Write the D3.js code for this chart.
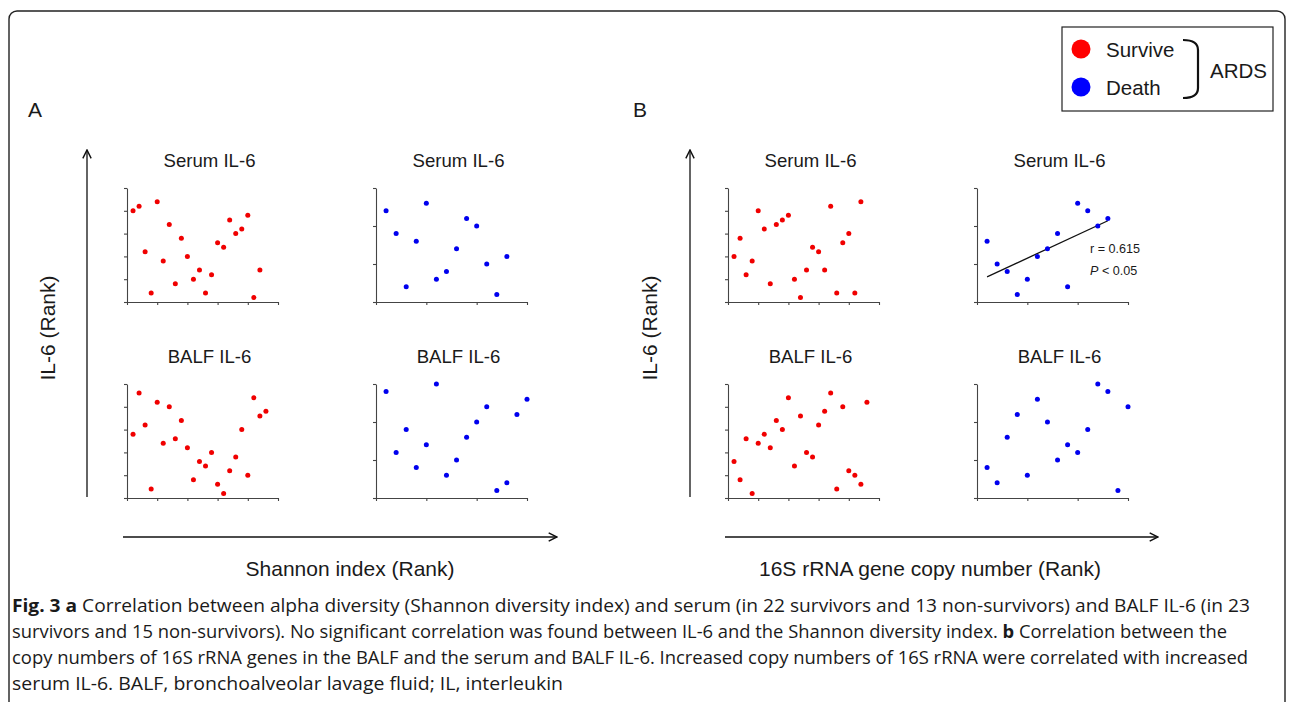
<!DOCTYPE html>
<html><head><meta charset="utf-8">
<script src="https://cdn.jsdelivr.net/npm/d3@7"></script>
<style>
html,body{margin:0;padding:0;background:#fff;}
svg{display:block;}
text{font-family:"Liberation Sans",Arial,sans-serif;fill:#1a1a1a;}
</style></head>
<body>
<svg id="chart" width="1293" height="702"></svg>
<script>
// ---- data (ranks) ----
const rank22 = [1,2,3,4,5,6,7,8,9,10,11,12,13,14,15,16,17,18,19,20,21,22];
const rank23 = [1,2,3,4,5,6,7,8,9,10,11,12,13,14,15,16,17,18,19,20,21,22,23];
const rank13 = [1,2,3,4,5,6,7,8,9,10,11,12,13];
const rank15 = [1,2,3,4,5,6,7,8,9,10,11,12,13,14,15];

// Panel A: Shannon index (rank) vs IL-6 (rank)
const aSerumSurvive = [20,21,11,2,22,9,17,4,14,10,5,7,2,6,13,12,18,15,16,19,1,7];
const aSerumDeath   = [12,9,2,8,13,3,4,7,11,10,5,1,6];
const aBalfSurvive  = [14,23,16,2,21,12,20,13,17,11,4,8,7,10,3,1,6,9,15,5,22,18,19];
const aBalfDeath    = [14,6,9,4,7,15,3,5,8,10,12,1,2,11,13];

// Panel B: 16S rRNA gene copy number (rank) vs IL-6 (rank)
const bSerumSurvive = [10,14,6,9,20,16,4,17,18,19,5,1,7,12,11,7,21,2,13,15,2,22];
const bSerumDeath   = [8,5,4,1,3,6,7,9,2,13,12,10,11];
const bBalfSurvive  = [8,4,13,1,12,14,11,17,15,22,7,18,10,9,16,19,23,2,20,6,5,3,21];
const bBalfDeath    = [4,2,8,11,3,13,10,5,7,6,9,15,14,1,12];

const ticks25 = [0,5,10,15,20,25];
const ticks15 = [0,5,10,15];
const groups = ["Survive","Death"];
const groupColors = ["#f00000","#0000ee"];
const legendColors = ["#ff0000","#0000ff"];
const titles = ["Serum IL-6","BALF IL-6"];
const corrText = ["r = 0.615","< 0.05"];

// ---- layout ----
const svg = d3.select("#chart");
const colX = [127, 376, 728, 977];
const rowY = [188, 384];
const W = 151, H = 114;

// outer frame
svg.append("rect").attr("x",9).attr("y",11).attr("width",1276).attr("height",740)
  .attr("rx",8).attr("fill","none").attr("stroke","#222").attr("stroke-width",1.4);

const panels = [
  {c:0,r:0,x:rank22,y:aSerumSurvive,g:0,t:0},
  {c:1,r:0,x:rank13,y:aSerumDeath,g:1,t:0},
  {c:0,r:1,x:rank23,y:aBalfSurvive,g:0,t:1},
  {c:1,r:1,x:rank15,y:aBalfDeath,g:1,t:1},
  {c:2,r:0,x:rank22,y:bSerumSurvive,g:0,t:0},
  {c:3,r:0,x:rank13,y:bSerumDeath,g:1,t:0,fit:true},
  {c:2,r:1,x:rank23,y:bBalfSurvive,g:0,t:1},
  {c:3,r:1,x:rank15,y:bBalfDeath,g:1,t:1},
];

panels.forEach(p => {
  const tv = p.g === 0 ? ticks25 : ticks15;
  const maxV = tv[tv.length-1];
  const x = d3.scaleLinear().domain([0,maxV]).range([0,W]);
  const y = d3.scaleLinear().domain([0,maxV]).range([H,0]);
  const g = svg.append("g").attr("transform",`translate(${colX[p.c]},${rowY[p.r]})`);
  const xa = g.append("g").attr("transform",`translate(0,${H})`)
    .call(d3.axisBottom(x).tickValues(tv).tickSize(3).tickSizeOuter(0).tickFormat(""));
  const ya = g.append("g")
    .call(d3.axisLeft(y).tickValues(tv).tickSize(3).tickSizeOuter(0).tickFormat(""));
  [xa,ya].forEach(a=>{a.selectAll("path,line").attr("stroke","#444").attr("stroke-width",1.1);});
  g.append("text").attr("x",W/2+7).attr("y",-21).attr("text-anchor","middle")
    .attr("font-size",18.6).text(titles[p.t]);
  if (p.fit) {
    const mx = d3.mean(p.x), my = d3.mean(p.y);
    const sxy = d3.sum(p.x, (v,i)=>(v-mx)*(p.y[i]-my));
    const sxx = d3.sum(p.x, v=>(v-mx)*(v-mx));
    const b = sxy/sxx, a0 = my - b*mx;
    const x0 = d3.min(p.x), x1 = d3.max(p.x);
    g.append("line").attr("x1",x(x0)).attr("y1",y(a0+b*x0)).attr("x2",x(x1)).attr("y2",y(a0+b*x1))
      .attr("stroke","#111").attr("stroke-width",1.3);
    g.append("text").attr("x",113).attr("y",65).attr("font-size",12.6).text(corrText[0]);
    const t2 = g.append("text").attr("x",113).attr("y",87).attr("font-size",12.6);
    t2.append("tspan").attr("font-style","italic").text("P");
    t2.append("tspan").text(" " + corrText[1]);
  }
  g.selectAll("circle").data(p.y).join("circle")
    .attr("cx",(d,i)=>x(p.x[i])).attr("cy",d=>y(d)).attr("r",2.5)
    .attr("fill",groupColors[p.g]);
});

// panel letters
svg.append("text").attr("x",28).attr("y",117).attr("font-size",21).text("A");
svg.append("text").attr("x",633).attr("y",117).attr("font-size",21).text("B");

// arrows
const defs = svg.append("defs");
defs.append("marker").attr("id","arr").attr("viewBox","0 0 10 10").attr("refX",9).attr("refY",5)
  .attr("markerWidth",8).attr("markerHeight",8).attr("orient","auto")
  .append("path").attr("d","M1,1 L9,5 L1,9").attr("fill","none").attr("stroke","#111").attr("stroke-width",1.4);

[{vx:87,hx0:123,hx1:557,lx:48,cx:350,label:"Shannon index (Rank)"},
 {vx:690,hx0:725,hx1:1158,lx:650,cx:930,label:"16S rRNA gene copy number (Rank)"}].forEach(s=>{
  svg.append("line").attr("x1",s.vx).attr("y1",497).attr("x2",s.vx).attr("y2",150)
    .attr("stroke","#111").attr("stroke-width",1.3).attr("marker-end","url(#arr)");
  svg.append("line").attr("x1",s.hx0).attr("y1",537).attr("x2",s.hx1).attr("y2",537)
    .attr("stroke","#111").attr("stroke-width",1.3).attr("marker-end","url(#arr)");
  svg.append("text").attr("transform",`translate(${s.lx+7},328) rotate(-90)`).attr("text-anchor","middle")
    .attr("font-size",21).text("IL-6 (Rank)");
  svg.append("text").attr("x",s.cx).attr("y",576).attr("text-anchor","middle")
    .attr("font-size",21).text(s.label);
});

// legend
const lg = svg.append("g");
lg.append("rect").attr("x",1062).attr("y",27).attr("width",211).attr("height",84)
  .attr("fill","#fff").attr("stroke","#222").attr("stroke-width",1.2);
groups.forEach((name,i)=>{
  lg.append("circle").attr("cx",1081).attr("cy",49+i*38).attr("r",9.5).attr("fill",legendColors[i]);
  lg.append("text").attr("x",1106).attr("y",57+i*38).attr("font-size",20.5).text(name);
});
lg.append("path").attr("d","M1183,40 Q1198,40 1198,50 L1198,88 Q1198,98 1183,98")
  .attr("fill","none").attr("stroke","#111").attr("stroke-width",2.2);
lg.append("text").attr("x",1210).attr("y",78).attr("font-size",20.5).text("ARDS");

// caption
const capLines = [
  {w:1238, parts:[["Fig. 3 a",true],[" Correlation between alpha diversity (Shannon diversity index) and serum (in 22 survivors and 13 non-survivors) and BALF IL-6 (in 23",false]]},
  {w:1215, parts:[["survivors and 15 non-survivors). No significant correlation was found between IL-6 and the Shannon diversity index. ",false],["b",true],[" Correlation between the",false]]},
  {w:1236, parts:[["copy numbers of 16S rRNA genes in the BALF and the serum and BALF IL-6. Increased copy numbers of 16S rRNA were correlated with increased",false]]},
  {w:551, parts:[["serum IL-6. BALF, bronchoalveolar lavage fluid; IL, interleukin",false]]}
];
capLines.forEach((ln,i)=>{
  const t = svg.append("text").attr("x",12).attr("y",612+i*26).attr("font-size",17.5)
    .style("font-family","'Open Sans',sans-serif").attr("fill","#333")
    .attr("textLength",ln.w).attr("lengthAdjust","spacingAndGlyphs");
  ln.parts.forEach(pt=>t.append("tspan").attr("font-weight",pt[1]?"bold":"normal").text(pt[0]));
});
</script>
</body></html>
